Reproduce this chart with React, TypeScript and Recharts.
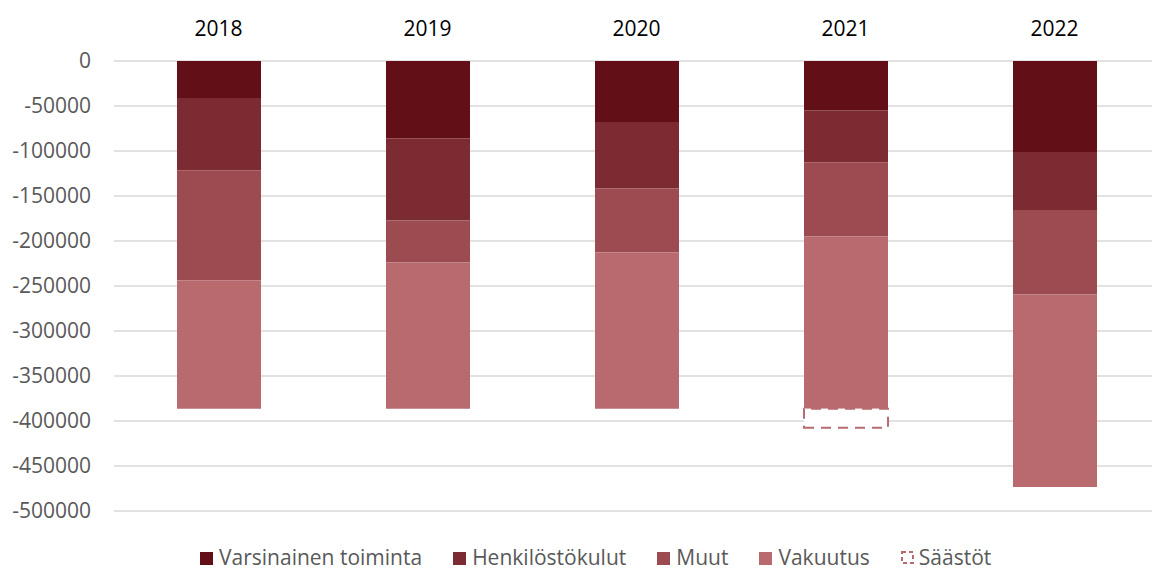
import React from 'react';
import { BarChart, Bar, XAxis, YAxis, CartesianGrid, Legend } from 'recharts';

const years = ['2018', '2019', '2020', '2021', '2022'];
const varsinainen = [-41200, -85700, -67900, -54600, -101000];
const henkilosto = [-80200, -91400, -73500, -57900, -64600];
const muut = [-122500, -46700, -71300, -82400, -93900];
const vakuutus = [-142500, -162600, -173700, -191500, -213800];
const saastot = [0, 0, 0, -21200, 0];
const yTicks = [0, -50000, -100000, -150000, -200000, -250000, -300000, -350000, -400000, -450000, -500000];

const series = [
  { key: 'varsinainen', name: 'Varsinainen toiminta', color: '#620F18' },
  { key: 'henkilosto', name: 'Henkilöstökulut', color: '#7D2B33' },
  { key: 'muut', name: 'Muut', color: '#9C4B51' },
  { key: 'vakuutus', name: 'Vakuutus', color: '#B86A6F' },
];

const data = years.map((year, i) => ({
  year,
  varsinainen: varsinainen[i],
  henkilosto: henkilosto[i],
  muut: muut[i],
  vakuutus: vakuutus[i],
  saastot: saastot[i],
}));

const FONT = '"Open Sans", sans-serif';
const SAVE_COLOR = '#B86A6F';

const renderLegend = () => (
  <div
    style={{
      height: 61,
      boxSizing: 'border-box',
      paddingTop: 35,
      paddingLeft: 200,
      display: 'flex',
      alignItems: 'flex-start',
      fontFamily: FONT,
      fontSize: 21,
      color: '#595959',
      lineHeight: '22px',
    }}
  >
    {series.map(s => (
      <div key={s.key} style={{ display: 'flex', alignItems: 'center', marginRight: 31, height: 22 }}>
        <svg width={13} height={13} style={{ marginRight: 6, marginTop: 2 }}>
          <rect x={0} y={0} width={13} height={13} fill={s.color} />
        </svg>
        <span style={{ whiteSpace: 'nowrap' }}>{s.name}</span>
      </div>
    ))}
    <div style={{ display: 'flex', alignItems: 'center', height: 22 }}>
      <svg width={14} height={14} style={{ marginRight: 4, marginTop: 2 }}>
        <rect
          x={1}
          y={1}
          width={11}
          height={11}
          fill="none"
          stroke={SAVE_COLOR}
          strokeWidth={2}
          strokeDasharray="4 3"
        />
      </svg>
      <span style={{ whiteSpace: 'nowrap' }}>Säästöt</span>
    </div>
  </div>
);

const App = () => {
  return (
    <div
      style={{
        position: 'absolute',
        left: 0,
        top: 0,
        width: 1152,
        height: 572,
        overflow: 'hidden',
        background: '#fff',
        fontFamily: FONT,
      }}
    >
      <BarChart
        width={1159}
        height={572}
        data={data}
        margin={{ top: 0, right: 0, bottom: 0, left: 0 }}
        barSize={84}
      >
        <CartesianGrid vertical={false} stroke="#D9D9D9" strokeWidth={1.5} />
        <XAxis
          dataKey="year"
          orientation="top"
          height={61}
          axisLine={false}
          tickLine={false}
          tickSize={0}
          tickMargin={25}
          interval={0}
          tick={{ fill: '#000000', fontSize: 21, fontFamily: FONT }}
        />
        <YAxis
          domain={[-500000, 0]}
          ticks={yTicks}
          width={114}
          axisLine={false}
          tickLine={false}
          tickSize={0}
          tickMargin={23}
          interval={0}
          tick={{ fill: '#595959', fontSize: 21, fontFamily: FONT }}
        />
        <Legend verticalAlign="bottom" content={renderLegend} />
        {series.map(s => (
          <Bar
            key={s.key}
            dataKey={s.key}
            name={s.name}
            stackId="a"
            fill={s.color}
            isAnimationActive={false}
          />
        ))}
        <Bar
          dataKey="saastot"
          name="Säästöt"
          stackId="a"
          fill="#FFFFFF"
          stroke={SAVE_COLOR}
          strokeWidth={2}
          strokeDasharray="10 7"
          isAnimationActive={false}
        />
      </BarChart>
    </div>
  );
};

export default App;
